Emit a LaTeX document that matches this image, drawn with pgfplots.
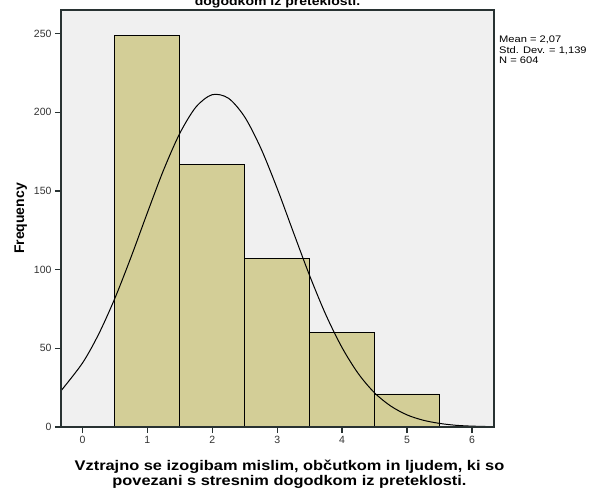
\documentclass[border=0pt]{standalone}
\usepackage{pgfplots}
\pgfplotsset{compat=1.18}
\usepackage{fontspec}
\setmainfont{Liberation Sans}
\newfontfamily\widefont[FakeStretch=1.17]{Liberation Sans}
\usetikzlibrary{calc}

\definecolor{barfill}{RGB}{211,206,151}
\definecolor{plotbg}{RGB}{240,240,240}
\definecolor{framecol}{RGB}{40,50,50}

\begin{document}
\begin{tikzpicture}
\begin{axis}[
    scale only axis,
    width=433pt, height=417pt,
    xmin=-0.33, xmax=6.34,
    ymin=0, ymax=265,
    xtick={0,1,2,3,4,5,6},
    ytick={0,50,100,150,200,250},
    axis on top,
    axis x line*=bottom,
    axis y line*=left,
    tick align=outside,
    major tick length=6pt,
    every tick/.style={draw=framecol, line width=1.2pt},
    axis line style={draw=framecol, line width=1.2pt, -},
    axis background/.style={fill=plotbg, draw=framecol, line width=1.2pt},
    tick label style={font=\fontsize{10.5}{12}\selectfont, text=black!80},
    /pgf/number format/assume math mode=true,
    ylabel={\textbf{Frequency}},
    ylabel style={font=\fontsize{14}{15}\selectfont},
    xlabel={\textbf{Vztrajno se izogibam mislim, občutkom in ljudem, ki so}\\\textbf{povezani s stresnim dogodkom iz preteklosti.}},
    xlabel style={font=\widefont\fontsize{14}{15.5}\selectfont, align=center, xshift=12pt, yshift=-9pt},
]
\addplot[ybar, bar width=1, bar shift=0pt, fill=barfill, draw=black, line width=0.9pt]
    coordinates {(1,249) (2,167) (3,107) (4,60) (5,21)};
\addplot[smooth, black, line width=1pt] coordinates {
    (-0.33,23.0) (0,40.6) (0.25,59.0) (0.5,81.8) (0.75,108.1) (1.0,136.1)
    (1.25,163.3) (1.5,186.6) (1.75,203.4) (2.0,211.2) (2.25,208.9)
    (2.5,197.0) (2.75,177.0) (3.0,151.6) (3.25,123.7) (3.5,96.2) (3.75,71.3)
    (4.0,50.4) (4.25,33.9) (4.5,21.7) (4.75,13.3) (5.0,7.7) (5.25,4.3)
    (5.5,2.3) (5.75,1.1) (6.0,0.55) (6.34,0.2)};
\end{axis}
\node[anchor=north west, align=left, inner sep=0pt, font=\widefont\fontsize{9.5}{10.5}\selectfont]
    at ($(current axis.north east)+(5pt,-26pt)$)
    {Mean = 2,07\\Std. Dev. = 1,139\\N = 604};
\node[anchor=base, font=\widefont\bfseries\fontsize{12}{13}\selectfont]
    at ($(current axis.north)+(0,4pt)$) {dogodkom iz preteklosti.};
\pgfresetboundingbox
\path[use as bounding box] ($(current axis.south west)+(-61pt,-68pt)$)
    rectangle ($(current axis.north east)+(96pt,10pt)$);
\end{tikzpicture}
\end{document}
